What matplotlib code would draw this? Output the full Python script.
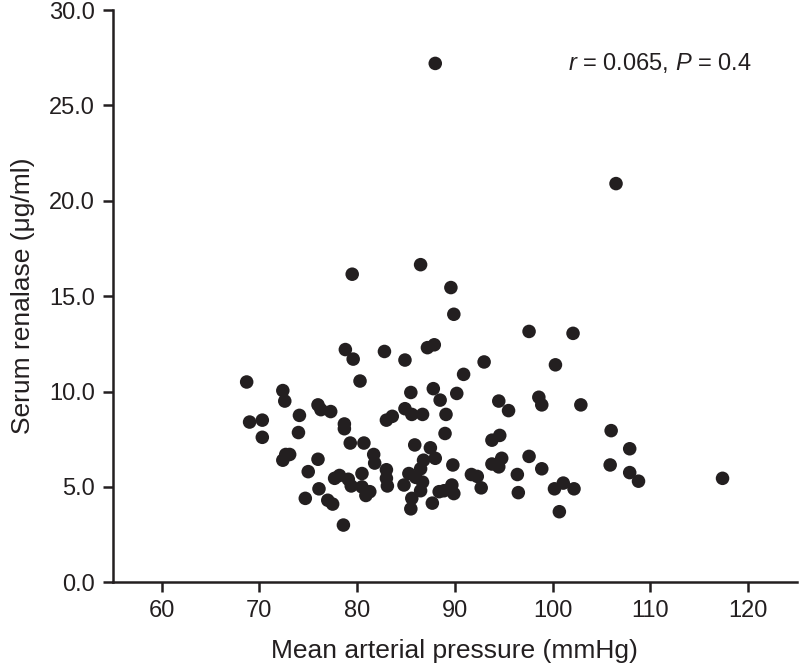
import numpy as np
import matplotlib.pyplot as plt

# mean arterial pressure (mmHg), serum renalase (ug/ml)
map_mmhg = [
    88.0, 106.5, 86.5, 79.5, 89.6, 89.9, 97.6, 102.1, 87.2, 87.9,
    78.8, 79.6, 82.8, 84.9, 93.0, 100.3, 90.9, 68.7, 80.3, 72.4,
    72.6, 85.5, 87.8, 88.5, 90.2, 94.5, 95.5, 98.6, 98.9, 102.9,
    76.0, 76.3, 77.3, 74.1, 69.0, 70.3, 78.7, 78.7, 83.0, 83.6,
    84.9, 85.6, 86.7, 89.1, 70.3, 74.0, 79.3, 80.7, 89.0, 93.8,
    94.6, 85.9, 87.5, 106.0, 107.9, 72.4, 72.7, 73.1, 76.0, 81.7,
    81.8, 88.0, 86.8, 86.5, 89.8, 93.8, 94.5, 94.8, 97.6, 98.9,
    105.9, 75.0, 83.0, 83.0, 83.1, 84.8, 85.3, 86.0, 86.7, 77.7,
    78.2, 79.1, 79.4, 80.5, 80.5, 80.9, 81.3, 76.1, 74.7, 77.0,
    77.5, 78.6, 86.5, 85.6, 85.5, 88.4, 88.9, 87.7, 89.7, 89.9,
    91.7, 92.3, 92.7, 96.4, 96.5, 100.2, 101.1, 102.2, 100.7, 107.9,
    108.8, 117.4,
]
renalase = [
    27.2, 20.9, 16.65, 16.15, 15.45, 14.05, 13.15, 13.05, 12.3, 12.45,
    12.2, 11.7, 12.1, 11.65, 11.55, 11.4, 10.9, 10.5, 10.55, 10.05,
    9.5, 9.95, 10.15, 9.55, 9.9, 9.5, 9.0, 9.7, 9.3, 9.3,
    9.3, 9.05, 8.95, 8.75, 8.4, 8.5, 8.3, 8.05, 8.5, 8.7,
    9.1, 8.8, 8.8, 8.8, 7.6, 7.85, 7.3, 7.3, 7.8, 7.45,
    7.7, 7.2, 7.05, 7.95, 7.0, 6.4, 6.7, 6.7, 6.45, 6.7,
    6.25, 6.5, 6.4, 5.95, 6.15, 6.2, 6.05, 6.5, 6.6, 5.95,
    6.15, 5.8, 5.9, 5.45, 5.05, 5.1, 5.7, 5.5, 5.25, 5.45,
    5.6, 5.4, 5.05, 5.7, 5.0, 4.55, 4.75, 4.9, 4.4, 4.3,
    4.1, 3.0, 4.8, 4.4, 3.85, 4.75, 4.8, 4.15, 5.1, 4.65,
    5.65, 5.55, 4.95, 5.65, 4.7, 4.9, 5.2, 4.9, 3.7, 5.75,
    5.3, 5.45,
]

x_ticks = [60, 70, 80, 90, 100, 110, 120]
y_ticks = [0, 5, 10, 15, 20, 25, 30]

plt.rcParams['font.family'] = ['Liberation Sans', 'DejaVu Sans']
plt.rcParams['mathtext.fontset'] = 'custom'
plt.rcParams['mathtext.rm'] = 'Liberation Sans'
plt.rcParams['mathtext.it'] = 'Liberation Sans:italic'

ink = '#231f20'
fig = plt.figure(figsize=(8, 6.67), dpi=100)
ax = fig.add_axes([0.141, 0.127, 0.855, 0.858])

ax.scatter(map_mmhg, renalase, s=95, color=ink, edgecolors='none', zorder=3, clip_on=False)

ax.set_xlim(55, 125)
ax.set_ylim(0, 30)
ax.set_xticks(x_ticks)
ax.set_yticks(y_ticks)
ax.set_yticklabels([f'{v:.1f}' for v in y_ticks])

for side in ['top', 'right']:
    ax.spines[side].set_visible(False)
for side in ['left', 'bottom']:
    ax.spines[side].set_linewidth(1.8)
    ax.spines[side].set_color(ink)
ax.tick_params(width=1.8, length=7, color=ink, labelsize=17, labelcolor=ink, pad=6)

ax.set_xlabel('Mean arterial pressure (mmHg)', fontsize=19, color=ink, labelpad=12)
ax.set_ylabel('Serum renalase (μg/ml)', fontsize=19, color=ink, labelpad=10)

ax.text(0.80, 0.907, r'$r$ = 0.065, $P$ = 0.4', transform=ax.transAxes,
        ha='center', va='center', fontsize=17, color=ink)

fig.savefig('out.png', dpi=100)
